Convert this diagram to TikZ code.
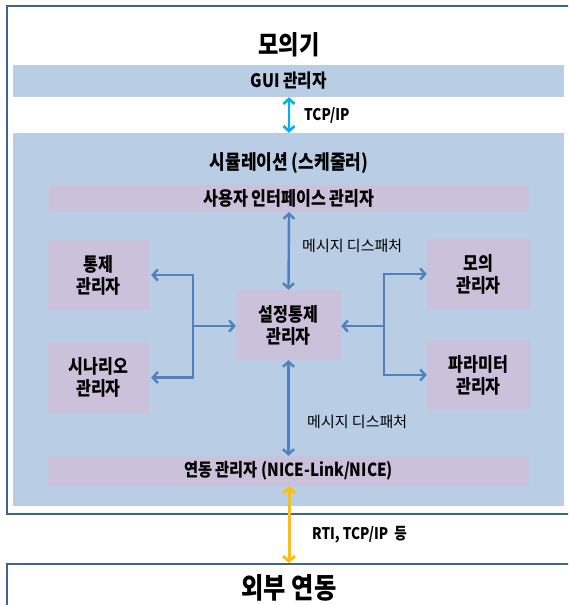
\documentclass[tikz,border=0pt]{standalone}
\usepackage{fontspec}
\setmainfont{Noto Sans CJK KR}
\newfontfamily\condf[FakeStretch=0.85]{Noto Sans CJK KR}
\usetikzlibrary{arrows.meta}
\definecolor{lblue}{HTML}{B9CDE5}
\definecolor{lav}{HTML}{CCC1DA}
\definecolor{abl}{HTML}{4F81BD}
\definecolor{cyanA}{HTML}{00B0F0}
\definecolor{yelA}{HTML}{FFC000}
\definecolor{frame}{HTML}{41628F}
\tikzset{
  bar/.style={fill=lblue, draw=none, inner sep=0pt, font=\condf\bfseries\fontsize{18.5}{22}\selectfont},
  mgr/.style={fill=lav, draw=none, inner sep=0pt, align=center, font=\condf\bfseries\fontsize{19}{22}\selectfont},
  conn/.style={draw=abl, line width=2.4pt, {Straight Barb[length=5pt,width=11pt]}-{Straight Barb[length=5pt,width=11pt]}},
  oneway/.style={draw=abl, line width=2.4pt, -{Straight Barb[length=5pt,width=11pt]}},
  lbl/.style={anchor=west, inner sep=0pt, font=\fontsize{15}{17}\selectfont},
  lblb/.style={anchor=west, inner sep=0pt, font=\condf\bfseries\fontsize{16}{18}\selectfont},
  big/.style={inner sep=0pt, font=\condf\bfseries\fontsize{26}{30}\selectfont},
  outer/.style={draw=frame, line width=2.6pt, fill=white}
}
\begin{document}
\begin{tikzpicture}[x=1pt,y=-1pt]
\useasboundingbox (0,0) rectangle (568,605);
\clip (0,0) rectangle (568,605);
\fill[white] (0,0) rectangle (568,605);
% outer boxes
\draw[outer] (7,6) rectangle (580,514);
\draw[outer] (7,564) rectangle (580,620);
\node[big] (title) at (289,45) {모의기};
\node[big, font=\condf\bfseries\fontsize{28.5}{32}\selectfont] (ext) at (289,588) {외부 연동};
% bars
\node[bar, minimum width=551pt, minimum height=32pt] (gui) at (288.5,81) {GUI 관리자};
\node[bar, minimum width=551pt, minimum height=373pt] (sim) at (288.5,319.5) {};
\node[inner sep=0pt, font=\condf\bfseries\fontsize{20}{22}\selectfont] (simt) at (289,163) {시뮬레이션 (스케줄러)};
\node[mgr, minimum width=480pt, minimum height=27pt] (ui) at (289,198.5) {사용자 인터페이스 관리자};
\node[mgr, minimum width=101pt, minimum height=70pt] (tj) at (98.5,275) {통제\\관리자};
\node[mgr, minimum width=101pt, minimum height=71pt] (sc) at (98.5,377.5) {시나리오\\관리자};
\node[mgr, minimum width=105pt, minimum height=70pt] (ct) at (288.5,325) {설정통제\\관리자};
\node[mgr, minimum width=103pt, minimum height=70pt] (mo) at (478.5,274) {모의\\관리자};
\node[mgr, minimum width=103pt, minimum height=70pt] (pa) at (478.5,375) {파라미터\\관리자};
\node[mgr, minimum width=481pt, minimum height=30pt, font=\condf\bfseries\fontsize{18}{22}\selectfont] (nice) at (288.5,471) {연동 관리자 (NICE-Link/NICE)};
% connectors
\draw[draw=cyanA, line width=2.6pt, {Straight Barb[length=5pt,width=11pt]}-{Straight Barb[length=5pt,width=11pt]}] ([xshift=0.5pt]gui.south) -- ([xshift=0.5pt]sim.north);
\node[lblb] (tcp) at (304,115) {TCP/IP};
\draw[conn] (ui.south) -- (ct.north);
\draw[conn] (ct.south) -- (nice.north);
\node[lbl] (md1) at (302,246) {메시지 디스패처};
\node[lbl] (md2) at (307,422) {메시지 디스패처};
\coordinate (jl) at (193,326);
\coordinate (jr) at (384,326);
\draw[oneway] (jl) -- (ct.west |- jl);
\draw[oneway] (jl) |- ([xshift=2pt]tj.east);
\draw[oneway] (jl) |- ([xshift=2pt]sc.east);
\draw[oneway] (jr) -- (ct.east |- jr);
\draw[oneway] (jr) |- (mo.west);
\draw[oneway] (jr) |- (pa.west);
\draw[draw=yelA, line width=3pt, {Straight Barb[length=5pt,width=12pt]}-{Straight Barb[length=5pt,width=12pt]}] ([xshift=0.5pt]nice.south) -- (289,563);
\node[lblb] (rti) at (312,535) {RTI, TCP/IP\ \ 등};
\end{tikzpicture}
\end{document}
